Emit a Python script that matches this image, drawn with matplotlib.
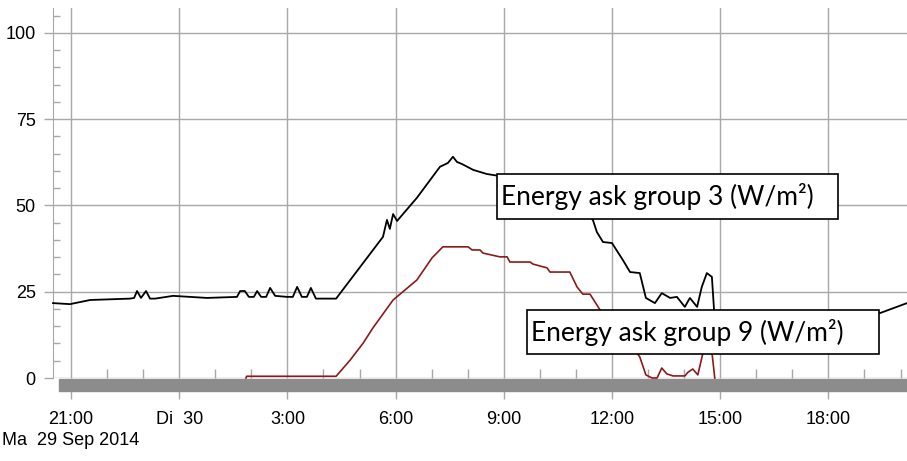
import matplotlib
matplotlib.use('Agg')
import matplotlib.pyplot as plt
from matplotlib.patches import Rectangle

# hours counted from Mon 29 Sep 2014 00:00
t_group3 = [20.50, 20.97, 21.53, 22.64, 22.75, 22.83, 22.94, 23.08, 23.19, 23.33,
            23.83, 24.30, 24.77, 25.60, 25.69, 25.82, 25.93, 26.07, 26.16, 26.27,
            26.41, 26.52, 26.66, 26.99, 27.15, 27.27, 27.40, 27.54, 27.65, 27.79,
            28.35, 29.65, 29.76, 29.84, 29.93, 30.04, 30.59, 31.23, 31.45, 31.59,
            31.70, 31.84, 32.15, 32.53, 32.84, 33.73, 34.56, 35.25, 35.47, 35.58,
            35.75, 36.00, 36.30, 36.50, 36.77, 36.94, 37.19, 37.38, 37.61, 37.80,
            38.02, 38.16, 38.36, 38.49, 38.63, 38.77, 38.83, 38.99, 41.21, 43.43,
            44.18]
v_group3 = [21.7, 21.4, 22.6, 23.0, 23.2, 25.2, 23.2, 25.2, 23.0, 23.0,
            23.8, 23.5, 23.2, 23.5, 25.2, 25.2, 23.5, 23.5, 25.2, 23.5,
            23.5, 26.1, 23.8, 23.5, 23.5, 26.4, 23.5, 23.5, 26.1, 23.0,
            23.0, 40.9, 45.8, 43.2, 47.5, 45.5, 52.2, 61.2, 62.3, 64.1,
            62.6, 62.0, 60.3, 59.1, 58.6, 55.9, 52.2, 48.1, 45.8, 42.3,
            39.4, 39.1, 34.2, 30.7, 30.4, 23.2, 21.7, 24.6, 23.2, 23.5,
            20.6, 23.2, 20.6, 26.4, 30.4, 29.3, 19.7, 17.4, 18.0, 18.8,
            21.7]

t_group9 = [25.85, 25.87, 28.35, 28.74, 29.10, 29.37, 29.93, 30.59, 31.01, 31.31,
            32.01, 32.12, 32.34, 32.42, 32.89, 33.09, 33.17, 33.73, 33.81, 34.20,
            34.28, 34.83, 35.03, 35.19, 35.39, 35.67, 36.08, 36.44, 36.77, 36.94,
            37.11, 37.25, 37.38, 37.52, 37.69, 38.02, 38.11, 38.24, 38.38, 38.52,
            38.66, 38.77, 38.85]
v_group9 = [0.0, 0.5, 0.5, 5.2, 10.1, 14.5, 22.6, 28.4, 34.8, 38.0,
            38.0, 37.1, 37.1, 36.2, 35.1, 35.1, 33.6, 33.6, 33.0, 31.9,
            30.7, 30.7, 26.4, 24.3, 24.3, 19.7, 16.2, 11.0, 6.1, 0.9,
            0.0, 0.0, 2.9, 1.2, 0.6, 0.6, 1.7, 2.6, 0.9, 7.2,
            9.6, 7.5, 0.0]

tick_hours = [21, 24, 27, 30, 33, 36, 39, 42]
tick_labels = ['21:00\nMa  29 Sep 2014', 'Di  30', '3:00', '6:00', '9:00',
               '12:00', '15:00', '18:00']
y_ticks = [0, 25, 50, 75, 100]
label3 = 'Energy ask group 3 (W/m²)'
label9 = 'Energy ask group 9 (W/m²)'

GRID = '#a8a8a8'
sans = ['Liberation Sans', 'DejaVu Sans']

fig = plt.figure(figsize=(9.07, 4.61), dpi=100)
ax = fig.add_axes([53/907, 1-378/461, 854/907, 370/461])

ax.plot(t_group3, v_group3, color='black', lw=1.3, zorder=4, clip_on=False)
ax.plot(t_group9, v_group9, color='#8b1a1a', lw=1.2, zorder=4, clip_on=False)

ax.set_xlim(20.5, 44.18)
ax.set_ylim(0, 107.2)

ax.set_xticks(tick_hours)
ax.set_xticklabels(tick_labels, family=sans, fontsize=13, linespacing=1.3)
ax.set_xticks([h for h in range(21, 45) if h not in tick_hours], minor=True)
ax.set_yticks(y_ticks)
ax.set_yticklabels([str(v) for v in y_ticks], family=sans, fontsize=13)
ax.set_yticks([v for v in range(5, 106, 5) if v not in y_ticks], minor=True)

ax.grid(which='major', color=GRID, lw=1.0)
ax.tick_params(axis='x', which='major', direction='out', length=15, width=1,
               color=GRID, pad=9)
ax.tick_params(axis='x', which='minor', direction='in', length=6.5, width=1,
               color=GRID)
ax.tick_params(axis='y', which='major', direction='out', length=6.5, width=1,
               color=GRID, pad=6)
ax.tick_params(axis='y', which='minor', direction='in', length=5, width=1,
               color=GRID)

for s in ['top', 'right', 'bottom']:
    ax.spines[s].set_visible(False)
ax.spines['left'].set_color(GRID)
ax.spines['left'].set_bounds(0, 107.2)

# grey time bar under the axis
ax.add_patch(Rectangle((20.67, -3.8), 25, 3.5, color='#8c8c8c',
                       clip_on=False, zorder=3))

# label boxes
ax.add_patch(Rectangle((0.520, 0.4297), 0.3993, 0.1216, transform=ax.transAxes,
                       facecolor='white', edgecolor='black', lw=1.2, zorder=5))
ax.text(0.520 + 4/854, 0.4905, label3, transform=ax.transAxes, family='Lato',
        fontsize=19, va='center', ha='left', zorder=6)
ax.add_patch(Rectangle((0.555, 0.0649), 0.4122, 0.119, transform=ax.transAxes,
                       facecolor='white', edgecolor='black', lw=1.2, zorder=5))
ax.text(0.555 + 4/854, 0.1243, label9, transform=ax.transAxes, family='Lato',
        fontsize=19, va='center', ha='left', zorder=6)

fig.savefig('out.png', dpi=100)
